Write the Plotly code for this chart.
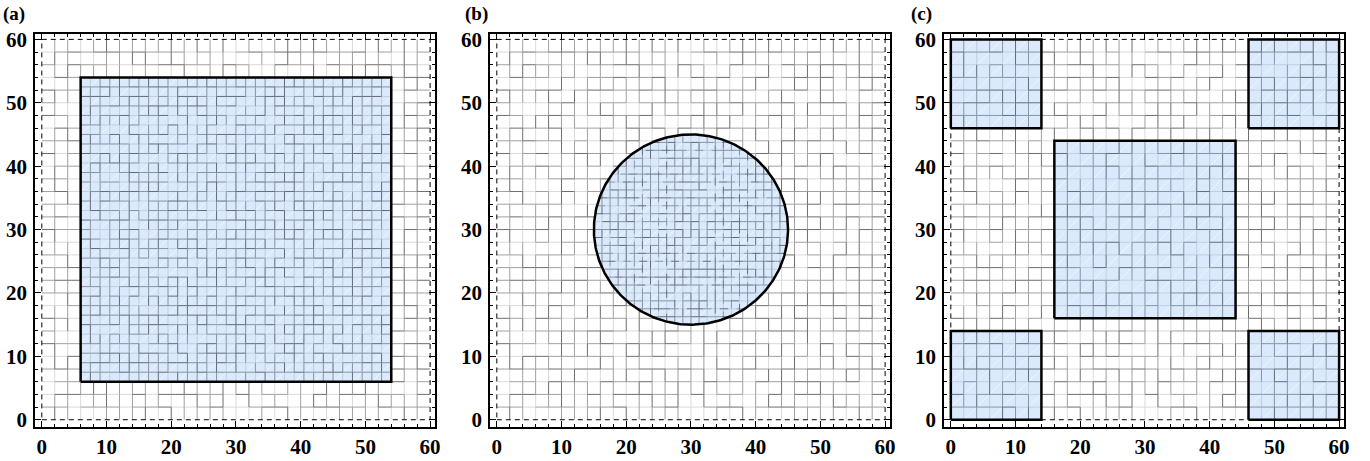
import numpy as np
import plotly.graph_objects as go

# Domain and mesh settings
DOMAIN = [0, 60]
COARSE_STEP = 2.0
TICK_VALUES = [0, 10, 20, 30, 40, 50, 60]
PANEL_LABELS = ["(a)", "(b)", "(c)"]

# Panel (a): one large square inclusion with a refined mesh
RECTS_A = [(6, 54, 6, 54)]
FINE_STEP_A = 1.5

# Panel (b): circular inclusion (cx, cy, r) with a refined mesh
CIRCLE_B = (30, 30, 15)
FINE_STEP_B = 1.25

# Panel (c): four corner squares plus a central square
RECTS_C = [(0, 14, 46, 60), (46, 60, 46, 60), (16, 44, 16, 44),
           (0, 14, 0, 14), (46, 60, 0, 14)]
FINE_STEP_C = 2.0

# element-edge shades: light, medium, dark
EDGE_SHADES = ["rgb(218,218,218)", "rgb(160,160,160)", "rgb(110,110,110)"]
FILL_EDGE_SHADES = ["rgb(192,207,224)", "rgb(135,148,164)", "rgb(98,108,122)"]
FILL_COLOR = "rgb(218,234,252)"
DIAG_COLOR = "rgba(255,255,255,0.5)"
SERIF = "Liberation Serif"

W, H = 1370, 461
PANEL_LEFT_PX = [35, 492, 948]
PANEL_W_PX = 402
TOP_PX, BOTTOM_PX = 29, 431


def shade_of(i, j):
    # deterministic hash of the edge index -> shade bucket
    h = ((i + 1) * 2654435761 ^ (j + 7) * 40503) & 0xFFFF
    h = (h * 2246822519 >> 7) % 8
    if h < 2:
        return 2
    if h < 4:
        return 0
    return 1


def split_line(p0, p1, step, line_idx, buckets):
    """Split a straight edge into element-length pieces and bucket by shade."""
    (x0, y0), (x1, y1) = p0, p1
    length = np.hypot(x1 - x0, y1 - y0)
    n = max(1, int(round(length / step)))
    for j in range(n):
        a, b = j / n, (j + 1) / n
        buckets[shade_of(line_idx, j)].append(
            (x0 + a * (x1 - x0), y0 + a * (y1 - y0),
             x0 + b * (x1 - x0), y0 + b * (y1 - y0)))


def seg_lists(segments):
    xs, ys = [], []
    for (x0, y0, x1, y1) in segments:
        xs += [x0, x1, None]
        ys += [y0, y1, None]
    return xs, ys


def coarse_grid():
    buckets = [[], [], []]
    lo, hi = DOMAIN
    for idx, v in enumerate(np.arange(lo + COARSE_STEP, hi, COARSE_STEP)):
        split_line((v, lo), (v, hi), COARSE_STEP, idx, buckets)
        split_line((lo, v), (hi, v), COARSE_STEP, idx + 31, buckets)
    return buckets


def rect_grid(rects, step):
    buckets = [[], [], []]
    for r, (x0, x1, y0, y1) in enumerate(rects):
        for idx, v in enumerate(np.arange(x0 + step, x1 - 1e-9, step)):
            split_line((v, y0), (v, y1), step, idx + 11 * r, buckets)
        for idx, v in enumerate(np.arange(y0 + step, y1 - 1e-9, step)):
            split_line((x0, v), (x1, v), step, idx + 40 + 11 * r, buckets)
    return buckets


def rect_diagonals(rects, step):
    segs = []
    for (x0, x1, y0, y1) in rects:
        c = (y0 - x1)
        while c < (y1 - x0):
            c += 2 * step
            xa, xb = max(x0, y0 - c), min(x1, y1 - c)
            if xb > xa:
                segs.append((xa, xa + c, xb, xb + c))
    return segs


def circle_grid(circle, step):
    cx, cy, r = circle
    buckets = [[], [], []]
    n = int(round(2 * r / step))
    for k in range(1, n):
        v = -r + k * step
        h = np.sqrt(max(r * r - v * v, 0.0))
        split_line((cx + v, cy - h), (cx + v, cy + h), step, k, buckets)
        split_line((cx - h, cy + v), (cx + h, cy + v), step, k + 40, buckets)
    return buckets


def circle_diagonals(circle, step):
    cx, cy, r = circle
    segs = []
    n = int(r / step)
    for k in range(-n, n + 1, 2):
        d = k * step / np.sqrt(2)
        if abs(d) >= r:
            continue
        h = np.sqrt(r * r - d * d)
        px, py = cx - d / np.sqrt(2), cy + d / np.sqrt(2)
        u = h / np.sqrt(2)
        segs.append((px - u, py - u, px + u, py + u))
    return segs


def rect_outline(rects):
    xs, ys = [], []
    for (x0, x1, y0, y1) in rects:
        xs += [x0, x1, x1, x0, x0, None]
        ys += [y0, y0, y1, y1, y0, None]
    return xs, ys


def circle_outline(circle):
    cx, cy, r = circle
    t = np.linspace(0, 2 * np.pi, 361)
    return list(cx + r * np.cos(t)), list(cy + r * np.sin(t))


def add_segments(fig, segs, color, width, xa, ya):
    sx, sy = seg_lists(segs)
    fig.add_trace(go.Scatter(x=sx, y=sy, mode="lines", xaxis=xa, yaxis=ya,
                             line=dict(color=color, width=width),
                             hoverinfo="skip", showlegend=False))


fig = go.Figure()

panels = [
    ("rects", RECTS_A, FINE_STEP_A),
    ("circle", CIRCLE_B, FINE_STEP_B),
    ("rects", RECTS_C, FINE_STEP_C),
]

for i, (kind, geom, step) in enumerate(panels):
    xa = "x" if i == 0 else f"x{i+1}"
    ya = "y" if i == 0 else f"y{i+1}"

    # background mesh
    for shade, segs in zip(EDGE_SHADES, coarse_grid()):
        add_segments(fig, segs, shade, 1, xa, ya)

    # inclusion fill, refined mesh and outline
    if kind == "rects":
        ox, oy = rect_outline(geom)
        fine = rect_grid(geom, step)
        diag = rect_diagonals(geom, step)
    else:
        ox, oy = circle_outline(geom)
        fine = circle_grid(geom, step)
        diag = circle_diagonals(geom, step)

    fig.add_trace(go.Scatter(x=ox, y=oy, mode="none", fill="toself",
                             fillcolor=FILL_COLOR, xaxis=xa, yaxis=ya,
                             hoverinfo="skip", showlegend=False))
    add_segments(fig, diag, DIAG_COLOR, 1, xa, ya)
    for shade, segs in zip(FILL_EDGE_SHADES, fine):
        add_segments(fig, segs, shade, 1, xa, ya)

    # dashed domain boundary
    lo, hi = DOMAIN
    fig.add_trace(go.Scatter(x=[lo, hi, hi, lo, lo], y=[lo, lo, hi, hi, lo],
                             mode="lines", xaxis=xa, yaxis=ya,
                             line=dict(color="black", width=1, dash="5px,4px"),
                             hoverinfo="skip", showlegend=False))

    fig.add_trace(go.Scatter(x=ox, y=oy, mode="lines", xaxis=xa, yaxis=ya,
                             line=dict(color="black", width=2.5),
                             hoverinfo="skip", showlegend=False))

tick_font = dict(family=SERIF, size=21, color="black", weight="bold")
y_dom = [1 - BOTTOM_PX / H, 1 - TOP_PX / H]

x_range = [-7 / 6.5, 60 + 5 / 6.5]
y_range = [-1.1, 60.8]

layout = dict(
    width=W, height=H,
    margin=dict(l=0, r=0, t=0, b=0),
    paper_bgcolor="white", plot_bgcolor="white",
)

for i in range(3):
    left = PANEL_LEFT_PX[i] / W
    right = (PANEL_LEFT_PX[i] + PANEL_W_PX) / W
    xname = "xaxis" if i == 0 else f"xaxis{i+1}"
    yname = "yaxis" if i == 0 else f"yaxis{i+1}"
    xref = "x" if i == 0 else f"x{i+1}"
    yref = "y" if i == 0 else f"y{i+1}"
    common = dict(
        showgrid=False, zeroline=False, showline=True, linecolor="black",
        linewidth=1.5, mirror="allticks", ticks="inside", ticklen=6,
        tickwidth=1.2, tickcolor="black", tickvals=TICK_VALUES,
        tickfont=tick_font,
        minor=dict(dtick=2, tick0=0, ticks="inside", ticklen=3,
                   tickwidth=1, tickcolor="black", showgrid=False),
    )
    layout[xname] = dict(common, domain=[left, right], range=x_range,
                         anchor=yref)
    layout[yname] = dict(common, domain=y_dom, range=y_range, anchor=xref,
                         ticklabelstandoff=2)

fig.update_layout(**layout)

label_x_px = [1, 465, 913]
for i, lab in enumerate(PANEL_LABELS):
    fig.add_annotation(text=lab, xref="paper", yref="paper",
                       x=label_x_px[i] / W, y=1 + 5 / H,
                       xanchor="left", yanchor="top", showarrow=False,
                       font=dict(family=SERIF, size=19,
                                 color="black", weight="bold"))

fig.write_html("out.html")
